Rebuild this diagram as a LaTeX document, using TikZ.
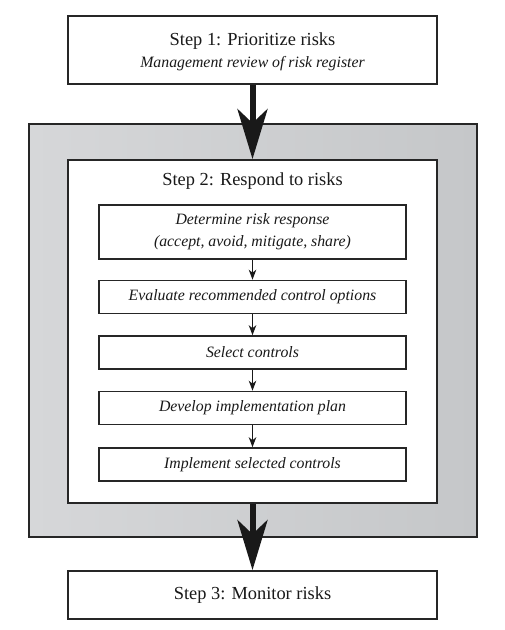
\documentclass[tikz,border=0pt]{standalone}
\usepackage{fontspec}
\setmainfont{Liberation Serif}
\usetikzlibrary{arrows.meta}
\begin{document}
\begin{tikzpicture}[x=1pt,y=-1pt,
  box/.style={draw=black!85, line width=1.8pt, fill=white, inner sep=0pt, minimum width=369pt},
  frame/.style={draw=black!85, line width=1.8pt, inner sep=0pt, minimum width=448pt, minimum height=413pt,
    left color={rgb,255:red,214;green,215;blue,217}, right color={rgb,255:red,197;green,199;blue,201}},
  subbox/.style={draw=black!85, line width=1.6pt, fill=white, inner sep=0pt, minimum width=307pt, minimum height=33pt,
    text=black!90, font={\fontsize{15.8}{19}\selectfont\itshape}},
  steptext/.style={inner sep=0pt, text=black!90, font={\fontsize{18.4}{22}\selectfont}},
  subtext/.style={inner sep=0pt, text=black!90, font={\fontsize{15.8}{19}\selectfont\itshape}},
  bigarrow/.style={draw=black!90, line width=6pt, -{Stealth[length=50pt, width=30pt, inset=14pt]}},
  smallarrow/.style={draw=black!90, line width=1.3pt, -{Stealth[length=10pt, width=7.5pt, inset=3pt]}}
]
\useasboundingbox (0,0) rectangle (505,630);

% Step 1
\node[box, minimum height=68pt] (s1) at (252.5,50) {};
\node[steptext] (s1t) at (252.5,41.5) {Step 1: Prioritize risks};
\node[subtext] (s1s) at (252.5,64) {Management review of risk register};

% Step 2 frame
\node[frame] (frame) at (253,330.5) {};
\node[box, minimum height=343pt] (s2) at (252.5,331.5) {};
\node[steptext] (s2t) at (252.5,181) {Step 2: Respond to risks};

\node[subbox, minimum height=54pt] (b1) at (252.5,232) {};
\node[subtext] (b1a) at (252.5,221) {Determine risk response};
\node[subtext] (b1b) at (252.5,243) {(accept, avoid, mitigate, share)};
\node[subbox] (b2) at (252.5,297) {Evaluate recommended control options};
\node[subbox] (b3) at (252.5,352.5) {Select controls};
\node[subbox] (b4) at (252.5,408) {Develop implementation plan};
\node[subbox] (b5) at (252.5,464.5) {Implement selected controls};

\draw[smallarrow] (b1.south) -- (b2.north);
\draw[smallarrow] (b2.south) -- (b3.north);
\draw[smallarrow] (b3.south) -- (b4.north);
\draw[smallarrow] (b4.south) -- (b5.north);

% Step 3
\node[box, minimum height=48pt] (s3) at (252.5,595) {};
\node[steptext] (s3t) at (252.5,595) {Step 3: Monitor risks};

\draw[bigarrow] (s1.south) -- (s2.north);
\draw[bigarrow] (s2.south) -- (s3.north);
\end{tikzpicture}
\end{document}
